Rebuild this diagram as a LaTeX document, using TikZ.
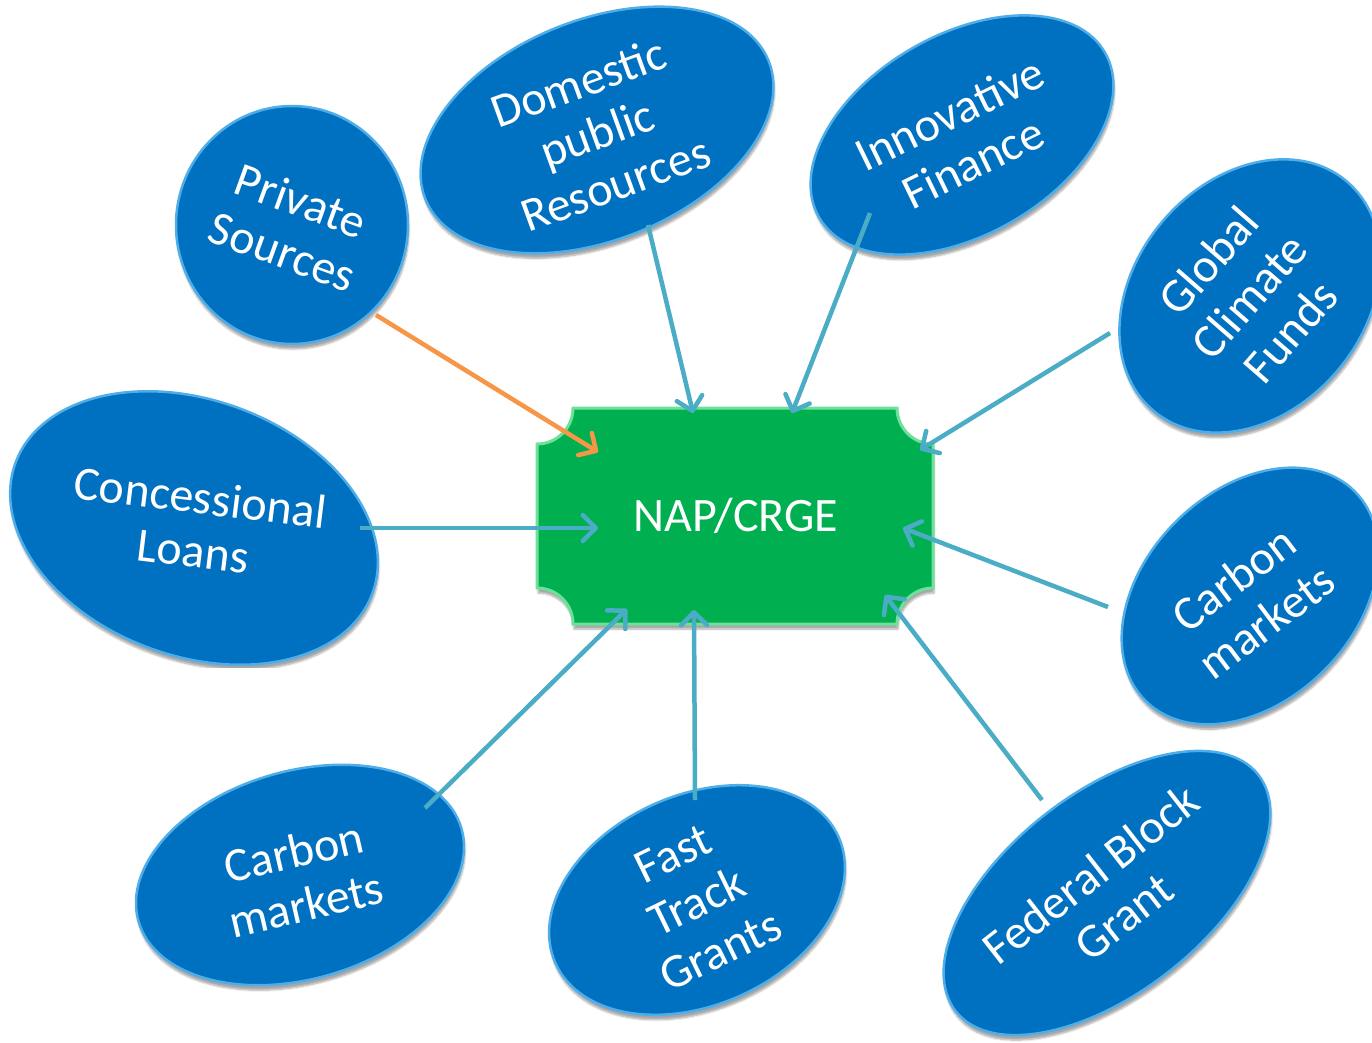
\documentclass[tikz,border=0pt]{standalone}
\usepackage{fontspec}
\setmainfont{Carlito}
\usetikzlibrary{arrows.meta,shapes.geometric,shadows.blur}
\definecolor{blobblue}{HTML}{0070C0}
\definecolor{blobrim}{HTML}{4FAEE8}
\definecolor{hubgreen}{HTML}{00B050}
\definecolor{hubrim}{HTML}{6FE09A}
\definecolor{linkblue}{HTML}{4BACC6}
\definecolor{linkorange}{HTML}{F79646}

\begin{document}
\begin{tikzpicture}[x=1pt,y=-1pt,
  blob/.style={ellipse, fill=blobblue, draw=blobrim, line width=2.5pt, inner sep=0pt,
    blur shadow={shadow xshift=1pt, shadow yshift=-5pt, shadow opacity=35, shadow blur steps=6}},
  lbl/.style={text=white, align=center, inner sep=0pt,
    font=\fontsize{48}{54}\selectfont},
  link/.style={draw=linkblue, line width=4.5pt,
    -{Straight Barb[length=13pt,width=26pt,line width=4.5pt,round]}},
  privlink/.style={link, draw=linkorange}]

\useasboundingbox (0,0) rectangle (1372,1043);

% central plaque with concave corners
\path[fill=hubgreen, draw=hubrim, line width=3pt,
  blur shadow={shadow xshift=1pt, shadow yshift=-5pt, shadow opacity=35, shadow blur steps=6}]
  (573,408) -- (897,408) .. controls (897,427.9) and (913.1,444) .. (933,444)
  -- (933,588) .. controls (913.1,588) and (897,604.1) .. (897,624)
  -- (573,624) .. controls (573,604.1) and (556.9,588) .. (537,588)
  -- (537,444) .. controls (556.9,444) and (573,427.9) .. (573,408) -- cycle;
\node[lbl] (hub) at (736,516) {NAP/CRGE};

% funding sources
\node[blob, minimum width=232pt, minimum height=238pt] (priv) at (292,225) {};
\node[lbl, rotate=-20] (privText) at (292,226) {Private\\Sources};

\node[blob, minimum width=370pt, minimum height=220pt, rotate=22] (dom) at (597,130) {};
\node[lbl, rotate=20] (domText) at (597,133) {Domestic\\public\\Resources};

\node[blob, minimum width=330pt, minimum height=200pt, rotate=30] (innov) at (962,135) {};
\node[lbl, rotate=26] (innovText) at (961,138) {Innovative\\Finance};

\node[blob, minimum width=300pt, minimum height=230pt, rotate=50] (glob) at (1250,296) {};
\node[lbl, rotate=49] (globText) at (1249,296) {Global\\Climate\\Funds};

\node[blob, minimum width=380pt, minimum height=256pt, rotate=-20] (conc) at (194,528) {};
\node[lbl, rotate=-7] (concText) at (197,524) {Concessional\\Loans};

\node[blob, minimum width=296pt, minimum height=210pt, rotate=45] (carbR) at (1250,596) {};
\node[lbl, rotate=37] (carbRText) at (1250,600) {Carbon\\markets};

\node[blob, minimum width=336pt, minimum height=208pt, rotate=16] (carbL) at (300,875) {};
\node[lbl, rotate=13] (carbLText) at (300,878) {Carbon\\markets};

\node[blob, minimum width=310pt, minimum height=210pt, rotate=24] (fast) at (697,900) {};
\node[lbl, rotate=26] (fastText) at (697,902) {Fast\\Track\\Grants};

\node[blob, minimum width=384pt, minimum height=200pt, rotate=38] (fed) at (1107,893) {};
\node[lbl, rotate=38] (fedText) at (1107,895) {Federal Block\\Grant};

% connector end points
\coordinate (privOut)  at (376,315);
\coordinate (domOut)   at (648,225);
\coordinate (innovOut) at (870,213);
\coordinate (globOut)  at (1110,333);
\coordinate (concOut)  at (360,528);
\coordinate (carbROut) at (1108,607);
\coordinate (carbLOut) at (425,808);
\coordinate (fastOut)  at (695,800);
\coordinate (fedOut)   at (1042,800);

\coordinate (privIn)  at (598,452);
\coordinate (domIn)   at (693,413);
\coordinate (innovIn) at (792,413);
\coordinate (globIn)  at (920,450);
\coordinate (concIn)  at (598,528);
\coordinate (carbRIn) at (903,528);
\coordinate (carbLIn) at (627,609);
\coordinate (fastIn)  at (694,610);
\coordinate (fedIn)   at (885,595);

\draw[privlink] (privOut) -- (privIn);
\draw[link] (domOut) -- (domIn);
\draw[link] (innovOut) -- (innovIn);
\draw[link] (globOut) -- (globIn);
\draw[link] (concOut) -- (concIn);
\draw[link] (carbROut) -- (carbRIn);
\draw[link] (carbLOut) -- (carbLIn);
\draw[link] (fastOut) -- (fastIn);
\draw[link] (fedOut) -- (fedIn);
\end{tikzpicture}
\end{document}
